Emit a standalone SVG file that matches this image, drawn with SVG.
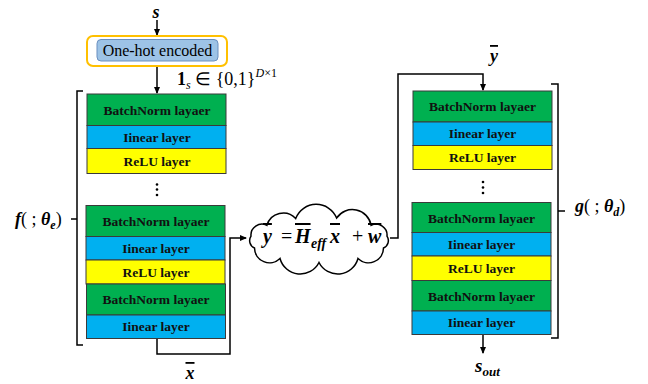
<svg xmlns="http://www.w3.org/2000/svg" width="648" height="384" viewBox="0 0 648 384">
<style>
.bn{fill:#00B050;stroke:#3a3a3a;stroke-width:1}
.li{fill:#00B0F0;stroke:#3a3a3a;stroke-width:1}
.re{fill:#FFFF00;stroke:#3a3a3a;stroke-width:1}
.lt{font-family:"Liberation Serif",serif;font-weight:bold;font-size:13.5px;fill:#111;text-anchor:middle}
.ln{fill:none;stroke:#000;stroke-width:1.5}
.m{font-family:"Liberation Serif",serif;font-weight:bold;font-style:italic;fill:#000}
.r{font-family:"Liberation Serif",serif;font-weight:normal;font-style:normal;fill:#000}
.ol{text-decoration:overline}
</style>
<defs>
<marker id="ah" markerWidth="8" markerHeight="8" refX="6" refY="4" orient="auto" markerUnits="userSpaceOnUse">
<path d="M0,1 L7,4 L0,7 Z" fill="#000"/>
</marker>
</defs>

<g id="connectors">
<path class="ln" d="M157,20 V35" marker-end="url(#ah)"/>
<path class="ln" d="M157,66 V93" marker-end="url(#ah)"/>
<path class="ln" d="M157,338 V354 H230 V238 H246" marker-end="url(#ah)"/>
<path class="ln" d="M390,238 H398 V74 H483 V90" marker-end="url(#ah)"/>
<path class="ln" d="M483,334 V353" marker-end="url(#ah)"/>
</g>

<g id="input-s">
<text class="m" x="156" y="18" font-size="18" text-anchor="middle">s</text>
</g>

<g id="onehot">
<rect x="87" y="36" width="140" height="30" rx="6" fill="#fff" stroke="#FFC000" stroke-width="2"/>
<rect x="97" y="39.5" width="121" height="21.5" rx="4" fill="#9DC3E6" stroke="#6A8FBF" stroke-width="1"/>
<text class="r" x="157.5" y="56" font-size="16" text-anchor="middle">One-hot encoded</text>
</g>

<g id="onehot-label">
<text class="r" x="177" y="85" font-size="18"><tspan font-weight="bold">1</tspan><tspan font-style="italic" font-size="12" dy="4">s</tspan><tspan dy="-4"> ∈ {0,1}</tspan><tspan font-style="italic" font-size="12" dy="-8">D</tspan><tspan font-size="12">×1</tspan></text>
</g>

<g id="encoder-block1">
<rect class="bn" x="87" y="94" width="139" height="31.5"/>
<rect class="li" x="87" y="125.5" width="139" height="23"/>
<rect class="re" x="87" y="148.5" width="139" height="25"/>
<text class="lt" x="157" y="114.5">BatchNorm layaer</text>
<text class="lt" x="157" y="141.5">Iinear layer</text>
<text class="lt" x="157" y="165.5">ReLU layer</text>
</g>

<g id="encoder-dots">
<circle cx="157" cy="184.5" r="1.3"/>
<circle cx="157" cy="189.5" r="1.3"/>
<circle cx="157" cy="195" r="1.3"/>
</g>

<g id="encoder-block2">
<rect class="bn" x="86" y="205.5" width="139" height="31"/>
<rect class="li" x="86" y="236.5" width="139" height="23.5"/>
<rect class="re" x="86" y="260" width="139" height="24"/>
<rect class="bn" x="86.5" y="284" width="139" height="31"/>
<rect class="li" x="86.5" y="315" width="139" height="23.5"/>
<text class="lt" x="156" y="226">BatchNorm layaer</text>
<text class="lt" x="156" y="252.5">Iinear layer</text>
<text class="lt" x="156" y="276.5">ReLU layer</text>
<text class="lt" x="156" y="304">BatchNorm layaer</text>
<text class="lt" x="156" y="331">Iinear layer</text>
</g>

<g id="encoder-bracket">
<path class="ln" d="M83,91 H77 V345 H83 M77,219 H71"/>
<text class="m" x="15" y="225" font-size="18">f<tspan class="r">( ; </tspan>θ<tspan font-size="12" dy="4">e</tspan><tspan class="r" dy="-4">)</tspan></text>
</g>

<g id="x-label">
<text class="m ol" x="190" y="379" font-size="18" text-anchor="middle">x</text>
</g>

<g id="channel">
<path d="M251,236.2 A11,11 0 0 1 266.9,225.3 A17,17 0 0 1 295.7,218.5 A22,22 0 0 1 336.6,218 A19,19 0 0 1 371.1,225.3 A11,11 0 0 1 387,236.2 A8,8 0 0 1 383.5,248 A15,15 0 0 1 358,258.5 A21,21 0 0 1 319,262.5 A21,21 0 0 1 280,258.5 A15,15 0 0 1 254.5,248 A8,8 0 0 1 251,236.2 Z" fill="#fff" stroke="#000" stroke-width="1.5"/>
<text class="m" y="243" font-size="20"><tspan class="ol" x="263">y</tspan><tspan class="r" x="281">=</tspan><tspan class="ol" x="295">H</tspan><tspan font-size="14" x="311" dy="5">eff</tspan><tspan class="ol" x="330" dy="-5">x</tspan><tspan class="r" x="352">+</tspan><tspan class="ol" x="368">w</tspan></text>
</g>

<g id="y-label">
<text class="m ol" x="494" y="62" font-size="18" text-anchor="middle">y</text>
</g>

<g id="decoder-block1">
<rect class="bn" x="413" y="91" width="139" height="31"/>
<rect class="li" x="413" y="122" width="139" height="23.5"/>
<rect class="re" x="413" y="145.5" width="139" height="24"/>
<text class="lt" x="482.5" y="111">BatchNorm layaer</text>
<text class="lt" x="482.5" y="138">Iinear layer</text>
<text class="lt" x="482.5" y="162">ReLU layer</text>
</g>

<g id="decoder-dots">
<circle cx="483" cy="182" r="1.3"/>
<circle cx="483" cy="187.5" r="1.3"/>
<circle cx="483" cy="193" r="1.3"/>
</g>

<g id="decoder-block2">
<rect class="bn" x="412" y="202.5" width="139" height="30"/>
<rect class="li" x="412" y="232.5" width="139" height="23.5"/>
<rect class="re" x="412" y="256" width="139" height="24.5"/>
<rect class="bn" x="412" y="280.5" width="139" height="30.5"/>
<rect class="li" x="412" y="311" width="139" height="23.5"/>
<text class="lt" x="481.5" y="222.5">BatchNorm layaer</text>
<text class="lt" x="481.5" y="248.5">Iinear layer</text>
<text class="lt" x="481.5" y="272.5">ReLU layer</text>
<text class="lt" x="481.5" y="300.5">BatchNorm layaer</text>
<text class="lt" x="481.5" y="327">Iinear layer</text>
</g>

<g id="decoder-bracket">
<path class="ln" d="M551,84 H558 V338 H551 M558,211 H565"/>
<text class="m" x="575" y="212" font-size="18">g<tspan class="r">( ; </tspan>θ<tspan font-size="12" dy="4">d</tspan><tspan class="r" dy="-4">)</tspan></text>
</g>

<g id="output-s">
<text class="m" x="475" y="372" font-size="19">s<tspan font-size="13" dy="4">out</tspan></text>
</g>
</svg>
